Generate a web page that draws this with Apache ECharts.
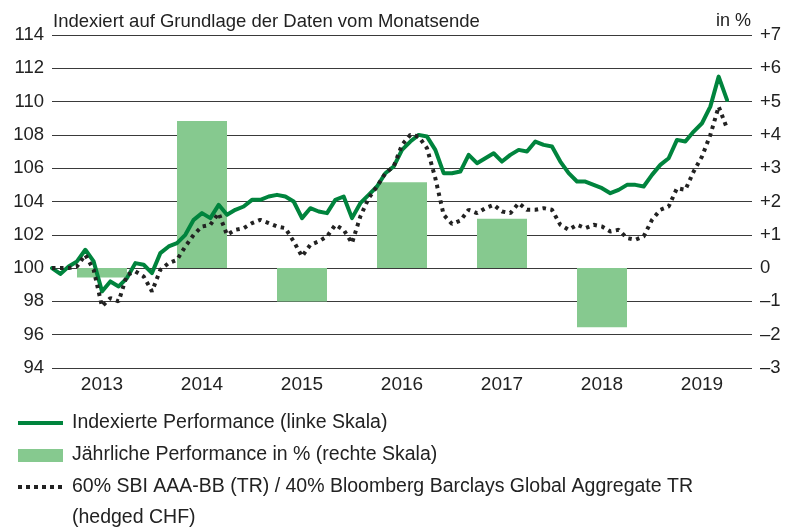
<!DOCTYPE html>
<html>
<head>
<meta charset="utf-8">
<script src="https://cdn.jsdelivr.net/npm/echarts@6/dist/echarts.min.js"></script>
<style>
html,body{margin:0;padding:0;background:#fff;}
#chart{width:797px;height:529px;}
</style>
</head>
<body>
<div id="chart"></div>
<script>
// Year categories (bar axis)
const years = ['2013', '2014', '2015', '2016', '2017', '2018', '2019'];
// Annual performance in % (right scale)
const annualPerf = [-0.28, 4.42, -1.0, 2.58, 1.48, -1.78, null];
// Monthly indexed performance (left scale), Dec 2012 .. Sep 2019
const indexedPerf = [100.0, 99.65, 100.1, 100.4, 101.1, 100.4, 98.6, 99.2, 98.9, 99.4, 100.3, 100.2,
  99.7, 100.9, 101.3, 101.5, 102.0, 102.9, 103.3, 103.0, 103.8, 103.2, 103.5, 103.7,
  104.1, 104.1, 104.3, 104.4, 104.3, 104.0, 103.0, 103.6, 103.4, 103.3, 104.1, 104.3,
  103.0, 103.9, 104.4, 104.9, 105.7, 106.1, 107.1, 107.6, 108.0, 107.9, 107.1, 105.7,
  105.7, 105.8, 106.8, 106.3, 106.6, 106.9, 106.4, 106.8, 107.1, 107.0, 107.6, 107.4,
  107.3, 106.4, 105.7, 105.2, 105.2, 105.0, 104.8, 104.5, 104.7, 105.0, 105.0, 104.9,
  105.6, 106.2, 106.6, 107.7, 107.6, 108.2, 108.7, 109.7, 111.5, 110.1];
// Benchmark 60% SBI AAA-BB / 40% Bloomberg Barclays Global Aggregate (left scale)
const benchmark = [100.0, 100.0, 100.0, 100.1, 100.8, 99.9, 97.7, 98.2, 98.0, 99.6, 99.8, 99.5,
  98.6, 99.9, 100.3, 100.5, 101.3, 102.0, 102.5, 102.6, 103.3, 102.0, 102.3, 102.4,
  102.7, 102.9, 102.7, 102.5, 102.4, 101.6, 100.7, 101.4, 101.6, 101.9, 102.6, 102.3,
  101.5, 103.1, 104.2, 104.9, 105.7, 106.1, 107.4, 108.0, 107.9, 107.2, 105.4, 103.2,
  102.65, 102.85, 103.5, 103.3, 103.6, 103.8, 103.4, 103.3, 103.9, 103.5, 103.5, 103.6,
  103.5, 102.6, 102.3, 102.6, 102.4, 102.6, 102.5, 102.2, 102.3, 101.8, 101.7, 101.9,
  102.9, 103.5, 103.7, 104.8, 104.7, 105.8, 106.7, 108.0, 109.7, 108.4];
// Axis ticks
const leftMin = 94, leftMax = 114, leftStep = 2;
const rightMin = -3, rightMax = 7, rightStep = 1;
const monthsSpan = 84;

const labels = {
  title: 'Indexiert auf Grundlage der Daten vom Monatsende',
  unit: 'in %',
  s1: 'Indexierte Performance (linke Skala)',
  s2: 'Jährliche Performance in % (rechte Skala)',
  s3a: '60% SBI AAA-BB (TR) / 40% Bloomberg Barclays Global Aggregate TR',
  s3b: '(hedged CHF)'
};

const FONT = '"Liberation Sans", Arial, Helvetica, sans-serif';
const TXT = '#222222';
const GREEN = '#00843d';
const LIGHT = '#86c98f';
const DOT = '#222222';

const chart = echarts.init(document.getElementById('chart'), null, {renderer: 'canvas'});

const toPairs = arr => arr.map((v, i) => [i, v]);

chart.setOption({
  animation: false,
  backgroundColor: '#ffffff',
  textStyle: {fontFamily: FONT},
  grid: {left: 52, right: 45, top: 35, bottom: 161, containLabel: false},
  xAxis: [
    {
      type: 'category', data: years, position: 'bottom', boundaryGap: true,
      axisLine: {show: false}, axisTick: {show: false}, splitLine: {show: false},
      axisLabel: {color: TXT, fontSize: 19, fontFamily: FONT, margin: 7}
    },
    {
      type: 'value', min: 0, max: monthsSpan, show: false
    }
  ],
  yAxis: [
    {
      type: 'value', min: leftMin, max: leftMax, interval: leftStep, position: 'left',
      axisLine: {show: false}, axisTick: {show: false},
      axisLabel: {color: TXT, fontSize: 18.5, fontFamily: FONT, margin: 8},
      splitLine: {show: true, lineStyle: {color: '#3a3a3a', width: 1}}
    },
    {
      type: 'value', min: rightMin, max: rightMax, interval: rightStep, position: 'right',
      axisLine: {show: false}, axisTick: {show: false}, splitLine: {show: false},
      axisLabel: {
        color: TXT, fontSize: 18.5, fontFamily: FONT, margin: 8,
        formatter: v => v > 0 ? '+' + v : (v < 0 ? '\u2013' + (-v) : '0')
      }
    }
  ],
  series: [
    {
      name: labels.s2, type: 'bar', xAxisIndex: 0, yAxisIndex: 1,
      data: annualPerf, barWidth: '50%', itemStyle: {color: LIGHT}, z: 1
    },
    {
      name: labels.s1, type: 'line', xAxisIndex: 1, yAxisIndex: 0,
      data: toPairs(indexedPerf), symbol: 'none',
      lineStyle: {color: GREEN, width: 4, join: 'round', cap: 'round'}, z: 3
    },
    {
      name: labels.s3a, type: 'line', xAxisIndex: 1, yAxisIndex: 0,
      data: toPairs(benchmark), symbol: 'none',
      lineStyle: {color: DOT, width: 4, type: [3.5, 4.5], cap: 'butt'}, z: 4
    }
  ],
  graphic: [
    {type: 'text', left: 53, top: 12, style: {text: labels.title, fill: TXT, font: '18.5px ' + FONT}},
    {type: 'text', right: 46, top: 12, style: {text: labels.unit, fill: TXT, font: '18px ' + FONT}},
    {type: 'line', shape: {x1: 18, y1: 423, x2: 63, y2: 423}, style: {stroke: GREEN, lineWidth: 4}},
    {type: 'text', x: 72, y: 423, style: {text: labels.s1, fill: TXT, font: '19.5px ' + FONT, verticalAlign: 'middle'}},
    {type: 'rect', shape: {x: 18, y: 449, width: 45, height: 13}, style: {fill: LIGHT}},
    {type: 'text', x: 72, y: 455, style: {text: labels.s2, fill: TXT, font: '19.5px ' + FONT, verticalAlign: 'middle'}},
    {type: 'line', shape: {x1: 18, y1: 487, x2: 63, y2: 487}, style: {stroke: DOT, lineWidth: 4, lineDash: [4, 4]}},
    {type: 'text', x: 72, y: 487, style: {text: labels.s3a, fill: TXT, font: '19.5px ' + FONT, verticalAlign: 'middle'}},
    {type: 'text', x: 72, y: 518, style: {text: labels.s3b, fill: TXT, font: '19.5px ' + FONT, verticalAlign: 'middle'}}
  ]
});
</script>
</body>
</html>
